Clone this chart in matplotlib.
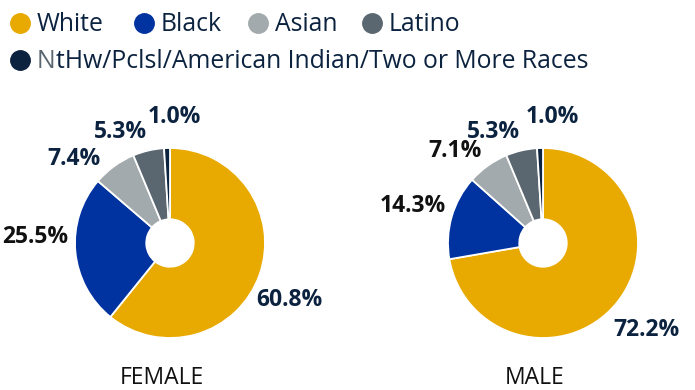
import matplotlib
matplotlib.use("Agg")
import matplotlib.pyplot as plt
import numpy as np

# Race / ethnicity shares by sex (percent)
categories = ["White", "Black", "Asian", "Latino",
              "NtHw/Pclsl/American Indian/Two or More Races"]
female_values = [60.8, 25.5, 7.4, 5.3, 1.0]
male_values = [72.2, 14.3, 7.1, 5.3, 1.0]
panel_titles = ["FEMALE", "MALE"]

colors = ["#E8A900", "#0033A0", "#A2AAAD", "#5B6770", "#0C2340"]
NAVY = "#0C2340"
female_label_colors = [NAVY, "#111111", NAVY, NAVY, NAVY]
male_label_colors = [NAVY, "#111111", "#111111", NAVY, NAVY]

# label placement: radial distance (in radii) and angular nudge (degrees)
female_label_dist = [1.39, 1.42, 1.34, 1.28, 1.33]
female_label_nudge = [-6, -7.6, 13, 11, -4]
male_label_dist = [1.42, 1.42, 1.34, 1.28, 1.33]
male_label_nudge = [0, 0, 8, 11, -6]

plt.rcParams["font.family"] = ["Open Sans", "DejaVu Sans"]

W, H = 695, 390
fig = plt.figure(figsize=(W / 100, H / 100), dpi=100)

R_PX = 95          # pie radius in pixels
CY_PX = 243        # pie centre height (from top)
centers_x = [170, 543]


def px_axes(cx, cy, r):
    return fig.add_axes([(cx - r) / W, (H - cy - r) / H, 2 * r / W, 2 * r / H])


def draw_donut(ax, values, label_colors, dists, nudges):
    wedges, _ = ax.pie(values, colors=colors, startangle=90, counterclock=False,
                       wedgeprops=dict(width=0.75, edgecolor="white", linewidth=1.3),
                       normalize=True)
    ax.set_xlim(-1, 1)
    ax.set_ylim(-1, 1)
    ax.set_aspect("equal")
    ax.axis("off")
    for w, v, c, d, n in zip(wedges, values, label_colors, dists, nudges):
        ang = np.deg2rad((w.theta1 + w.theta2) / 2 + n)
        ax.text(d * np.cos(ang), d * np.sin(ang), f"{v:.1f}%", ha="center",
                va="center", fontsize=16.5, fontweight="bold", color=c,
                clip_on=False)


for cx, vals, lcols, dists, nudges, title in zip(
        centers_x, [female_values, male_values],
        [female_label_colors, male_label_colors],
        [female_label_dist, male_label_dist],
        [female_label_nudge, male_label_nudge], panel_titles):
    ax = px_axes(cx, CY_PX, R_PX)
    draw_donut(ax, vals, lcols, dists, nudges)
    fig.text((cx - 8) / W, 1 - 389.5 / H, title, ha="center", va="bottom",
             fontsize=16.5, color="#111111")

# Legend drawn as marker + text pairs
legend_rows = [
    [(0, 20), (1, 144), (2, 258), (3, 372)],
    [(4, 20)],
]
row_base = [31, 68]
for row, yb in zip(legend_rows, row_base):
    for idx, xx in row:
        fig.add_artist(plt.Line2D([xx / W], [1 - (yb - 8) / H], marker="o",
                                  markersize=14, color=colors[idx],
                                  linestyle="none", transform=fig.transFigure))
        label = categories[idx]
        if idx == 4:
            t = fig.text((xx + 17) / W, 1 - yb / H, label[0], ha="left",
                         va="baseline", fontsize=17.8, color="#5B6770")
            fig.canvas.draw()
            bb = t.get_window_extent()
            fig.text(bb.x1 / W, 1 - yb / H, label[1:], ha="left",
                     va="baseline", fontsize=17.8, color=NAVY)
        else:
            fig.text((xx + 17) / W, 1 - yb / H, label, ha="left",
                     va="baseline", fontsize=17.8, color=NAVY)

fig.savefig("out.png", dpi=100)
